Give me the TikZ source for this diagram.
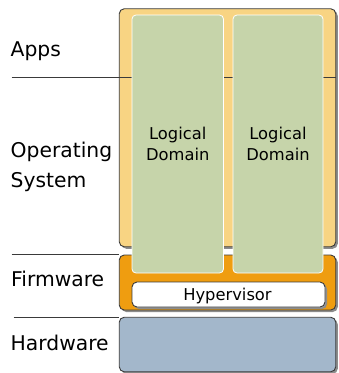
\documentclass[tikz,border=0pt]{standalone}
\usepackage{fontspec}
\setmainfont{DejaVu Sans}
\usetikzlibrary{shadows}
\definecolor{osfill}{HTML}{F8D483}
\definecolor{ldfill}{HTML}{C6D4AA}
\definecolor{fwfill}{HTML}{EF9D10}
\definecolor{hwfill}{HTML}{A3B7CB}
\definecolor{edge}{HTML}{3A3A3A}
\tikzset{
  layerbox/.style={draw=edge, line width=0.9pt, rounded corners=5pt, inner sep=0pt,
    drop shadow={shadow xshift=2pt, shadow yshift=-2pt, fill=black!45, opacity=1}},
  ldbox/.style={draw=white, line width=0.8pt, fill=ldfill, rounded corners=4pt, inner sep=0pt,
    align=center, font=\fontsize{16.3}{21}\selectfont},
  layerlabel/.style={anchor=base west, inner sep=0pt, align=left,
    font=\fontsize{20.3}{29.5}\selectfont},
  sepline/.style={draw=edge, line width=0.8pt}
}
\begin{document}
\begin{tikzpicture}[x=1pt,y=-1pt]
\useasboundingbox (0,0) rectangle (339,373);
% OS box
\node[layerbox, fill=osfill, minimum width=216.5pt, minimum height=238pt] (os) at (227.5,127.75) {};
% Apps separator
\coordinate (appsL) at (11.5,77.3);
\coordinate (appsR) at (335.5,77.3);
\draw[sepline] (appsL) -- (appsR);
% Firmware box
\node[layerbox, fill=fwfill, minimum width=216.5pt, minimum height=55pt] (fw) at (227.5,282.5) {};
% Logical domains
\node[ldbox, minimum width=91.5pt, minimum height=258pt] (ld1) at (177.75,144) {};
\node[ldbox, minimum width=90pt, minimum height=258pt] (ld2) at (278,144) {};
\node[font=\fontsize{16.3}{21}\selectfont, align=center, anchor=base, inner sep=0pt] (ld1t) at (177.75,160.5) {Logical\\Domain};
\node[font=\fontsize{16.3}{21}\selectfont, align=center, anchor=base, inner sep=0pt] (ld2t) at (278,160.5) {Logical\\Domain};
% Hypervisor
\node[layerbox, fill=white, rounded corners=5pt, minimum width=193pt, minimum height=25pt,
  drop shadow={shadow xshift=1pt, shadow yshift=-1pt, fill=black!40, opacity=1}] (hv) at (228.5,294.5) {};
\node[anchor=base, inner sep=0pt, font=\fontsize{16.3}{20}\selectfont] (hvt) at (227.5,300.5) {Hypervisor};
% Hardware
\node[layerbox, fill=hwfill, minimum width=216.5pt, minimum height=54.5pt] (hw) at (227.5,344.5) {};
% Separators
\coordinate (fwL) at (11.5,254.5);
\coordinate (hwL) at (13.5,317.5);
\draw[sepline] (fwL) -- (fw.north west |- fwL);
\draw[sepline] (hwL) -- (hw.north west |- hwL);
% Labels
\node[layerlabel] (apps) at (10.5,56) {Apps};
\node[layerlabel] (opsys) at (10.5,187) {Operating\\System};
\node[layerlabel] (firm) at (11,286.5) {Firmware};
\node[layerlabel] (hard) at (10.5,350) {Hardware};
\end{tikzpicture}
\end{document}
